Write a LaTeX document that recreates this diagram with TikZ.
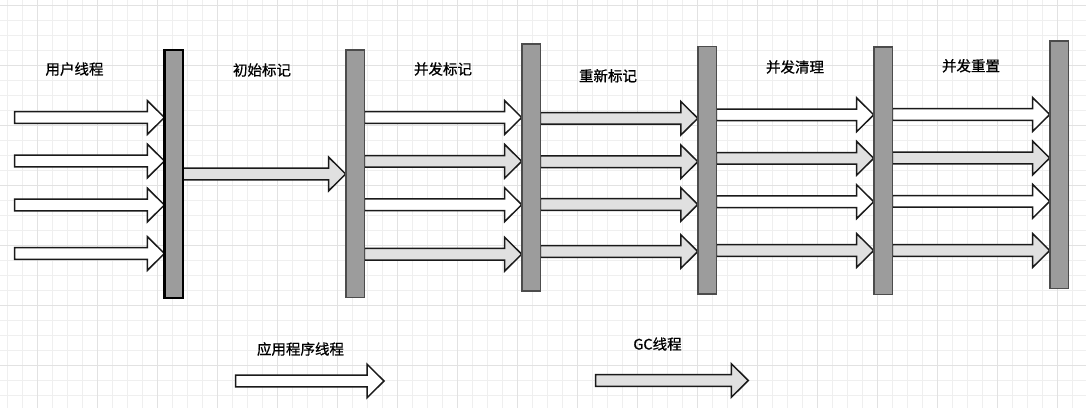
\documentclass[tikz,border=0pt]{standalone}
\usepackage{fontspec}
\newfontfamily\cjk[FakeBold=0.7]{Noto Sans CJK SC}
\usetikzlibrary{calc}
\definecolor{gridminor}{HTML}{EFEFEF}
\definecolor{gridmajor}{HTML}{E2E2E2}
\definecolor{barfill}{HTML}{9C9C9C}
\definecolor{barline}{HTML}{4C4C4C}
\definecolor{gcfill}{HTML}{E0E0E0}
\definecolor{arrline}{HTML}{1A1A1A}
\pgfdeclarelayer{gridlayer}
\pgfdeclarelayer{arrowlayer}
\pgfsetlayers{gridlayer,arrowlayer,main}
\tikzset{
  bar/.style={draw=barline, line width=1.6pt, fill=barfill, minimum width=18.6pt, minimum height=247.4pt, inner sep=0pt, outer sep=0pt},
  firstbar/.style={bar, draw=black, line width=2.2pt, minimum width=18.8pt, minimum height=247.8pt},
  fat/.style={draw=arrline, line width=1.5pt, line join=miter, to path={
    let \p1=(\tikztostart), \p2=(\tikztotarget) in
    (\x1,\y1+5.8pt) -- (\x2-17pt,\y1+5.8pt) -- (\x2-17pt,\y1+16.8pt) -- (\x2,\y1) -- (\x2-17pt,\y1-16.8pt) -- (\x2-17pt,\y1-5.8pt) -- (\x1,\y1-5.8pt) -- cycle}},
  app/.style={fat, fill=white},
  gc/.style={fat, fill=gcfill},
  lab/.style={font=\cjk\fontsize{14.5}{16}\selectfont, inner sep=0pt, text=black}
}
\begin{document}
\begin{tikzpicture}[x=1pt,y=-1pt]
\useasboundingbox (0,0) rectangle (1086,408);
\begin{pgfonlayer}{gridlayer}
\fill[white] (0,0) rectangle (1086,408);
\foreach \i in {0,...,72} \draw[gridminor, line width=1pt] (7.3+15*\i,0) -- ++(0,408);
\foreach \j in {0,...,27} \draw[gridminor, line width=1pt] (0,5+15*\j) -- ++(1086,0);
\foreach \i in {0,...,18} \draw[gridmajor, line width=1pt] (37.3+60*\i,0) -- ++(0,408);
\foreach \j in {0,...,6} \draw[gridmajor, line width=1pt] (0,5+60*\j) -- ++(1086,0);
\end{pgfonlayer}
% bars
\node[firstbar] (b1) at (173.8,174) {};
\node[bar] (b2) at (355,173.6) {};
\node[bar] (b3) at (531,167.4) {};
\node[bar] (b4) at (707.1,170.2) {};
\node[bar] (b5) at (883,170.9) {};
\node[bar] (b6) at (1059,164.7) {};
% free ends
\coordinate (u1) at (14.7,117.5);
\coordinate (u2) at (14.7,161);
\coordinate (u3) at (14.7,205);
\coordinate (u4) at (14.7,253.5);
\coordinate (la) at (235.7,381);
\coordinate (lb) at (384,381);
\coordinate (ga) at (595.7,380.5);
\coordinate (gb) at (748.3,380.5);
\begin{pgfonlayer}{arrowlayer}
\draw[app] (u1) to (b1.west |- u1);
\draw[app] (u2) to (b1.west |- u2);
\draw[app] (u3) to (b1.west |- u3);
\draw[app] (u4) to (b1.west |- u4);
\draw[gc] (b1.east |- 0,174) to (b2.west |- 0,174);
\draw[app] (b2.east |- 0,117.5) to (b3.west |- 0,117.5);
\draw[gc]  (b2.east |- 0,161.3) to (b3.west |- 0,161.3);
\draw[app] (b2.east |- 0,204.7) to (b3.west |- 0,204.7);
\draw[gc]  (b2.east |- 0,254.2) to (b3.west |- 0,254.2);
\draw[gc] (b3.east |- 0,118.3) to (b4.west |- 0,118.3);
\draw[gc] (b3.east |- 0,161.7) to (b4.west |- 0,161.7);
\draw[gc] (b3.east |- 0,204.5) to (b4.west |- 0,204.5);
\draw[gc] (b3.east |- 0,251.5) to (b4.west |- 0,251.5);
\draw[app] (b4.east |- 0,114.8) to (b5.west |- 0,114.8);
\draw[gc]  (b4.east |- 0,158.3) to (b5.west |- 0,158.3);
\draw[app] (b4.east |- 0,201.7) to (b5.west |- 0,201.7);
\draw[gc]  (b4.east |- 0,250.5) to (b5.west |- 0,250.5);
\draw[app] (b5.east |- 0,114.5) to (b6.west |- 0,114.5);
\draw[gc]  (b5.east |- 0,158) to (b6.west |- 0,158);
\draw[app] (b5.east |- 0,201.3) to (b6.west |- 0,201.3);
\draw[gc]  (b5.east |- 0,250.5) to (b6.west |- 0,250.5);
\draw[app] (la) to (lb);
\draw[gc] (ga) to (gb);
\end{pgfonlayer}
% labels
\node[lab] (t0) at (74.5,69) {用户线程};
\node[lab] (t1) at (262,70) {初始标记};
\node[lab] (t2) at (443,69) {并发标记};
\node[lab] (t3) at (608,75.8) {重新标记};
\node[lab] (t4) at (795,67) {并发清理};
\node[lab] (t5) at (971,65.8) {并发重置};
\node[lab] (t6) at (300.5,349) {应用程序线程};
\node[lab] (t7) at (657.5,344) {GC线程};
\end{tikzpicture}
\end{document}
